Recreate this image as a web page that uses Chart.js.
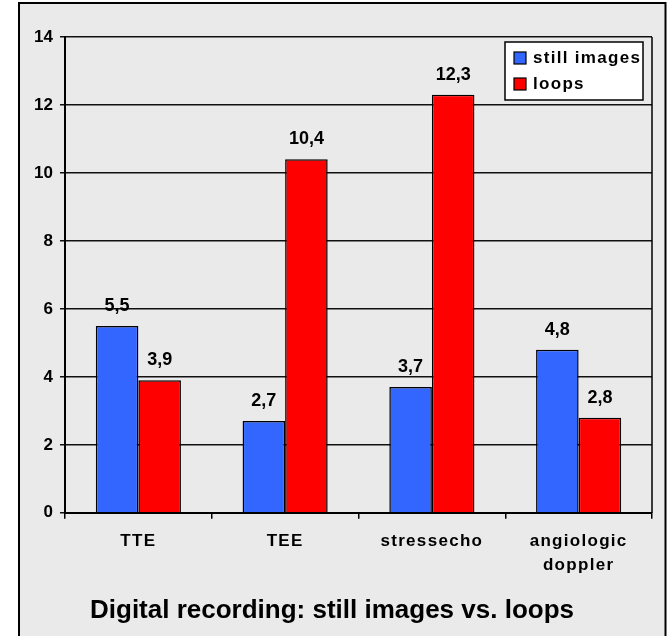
<!DOCTYPE html>
<html>
<head>
<meta charset="utf-8">
<script src="https://cdn.jsdelivr.net/npm/chart.js@4/dist/chart.umd.min.js"></script>
<style>
  html, body { margin: 0; padding: 0; background: #fff; }
  #wrap { width: 669px; height: 636px; }
</style>
</head>
<body>
<div id="wrap"><canvas id="chart" width="669" height="636"></canvas></div>
<script>
// Recording type per examination
const categories = ['TTE', 'TEE', 'stressecho', ['angiologic', 'doppler']];
const stillImages = [5.5, 2.7, 3.7, 4.8];
const loops = [3.9, 10.4, 12.3, 2.8];
const yTicks = [0, 2, 4, 6, 8, 10, 12, 14];
const seriesNames = ['still images', 'loops'];
const titleText = 'Digital recording: still images vs. loops';

const FONT = '"Liberation Sans", Arial, sans-serif';
const PANEL = '#eaeaea';
const BLUE = '#3366ff';
const RED = '#ff0000';

const fmt = v => v.toFixed(1).replace('.', ',');

// Frame, plot border, value labels and the inset legend
const decor = {
  id: 'decor',
  beforeDraw(chart) {
    const ctx = chart.ctx;
    ctx.letterSpacing = '0px';
    ctx.save();
    ctx.fillStyle = '#fff';
    ctx.fillRect(0, 0, chart.width, chart.height);
    ctx.fillStyle = PANEL;
    ctx.fillRect(19, 3, 646, chart.height - 3);
    ctx.strokeStyle = '#000';
    ctx.lineWidth = 2;
    ctx.beginPath();
    ctx.moveTo(19, chart.height);
    ctx.lineTo(19, 3);
    ctx.lineTo(665.5, 3);
    ctx.lineTo(665.5, chart.height);
    ctx.stroke();
    ctx.restore();
  },
  beforeDatasetsDraw(chart) {
    const { ctx, chartArea: a } = chart;
    ctx.save();
    ctx.strokeStyle = '#000';
    ctx.lineWidth = 1.5;
    ctx.beginPath();
    ctx.moveTo(a.right, a.top);
    ctx.lineTo(a.right, a.bottom);
    ctx.stroke();
    ctx.restore();
  },
  afterDatasetsDraw(chart) {
    const ctx = chart.ctx;
    ctx.save();
    ctx.letterSpacing = '0px';
    ctx.font = 'bold 18px ' + FONT;
    ctx.fillStyle = '#000';
    ctx.textAlign = 'center';
    ctx.textBaseline = 'alphabetic';
    chart.data.datasets.forEach((ds, i) => {
      chart.getDatasetMeta(i).data.forEach((el, j) => {
        ctx.fillText(fmt(ds.data[j]), el.x, el.y - 15);
      });
    });
    ctx.restore();
    // category labels are drawn after this point
    ctx.letterSpacing = '1.3px';
  },
  afterDraw(chart) {
    const { ctx, chartArea: a } = chart;
    const w = 138, h = 58;
    const x = a.right - 9 - w, y = a.top + 5;
    ctx.save();
    ctx.fillStyle = '#fff';
    ctx.fillRect(x, y, w, h);
    ctx.strokeStyle = '#000';
    ctx.lineWidth = 1.5;
    ctx.strokeRect(x, y, w, h);
    ctx.font = 'bold 17px ' + FONT;
    ctx.letterSpacing = '1.3px';
    ctx.textAlign = 'left';
    ctx.textBaseline = 'alphabetic';
    chart.data.datasets.forEach((ds, i) => {
      const rowY = y + 10 + i * 26;
      ctx.fillStyle = ds.backgroundColor;
      ctx.fillRect(x + 9, rowY, 12, 12);
      ctx.lineWidth = 1.2;
      ctx.strokeRect(x + 9, rowY, 12, 12);
      ctx.fillStyle = '#000';
      ctx.fillText(ds.label, x + 28, rowY + 11);
    });
    ctx.restore();
    ctx.letterSpacing = '0px';
  }
};

new Chart(document.getElementById('chart'), {
  type: 'bar',
  data: {
    labels: categories,
    datasets: [
      { label: seriesNames[0], data: stillImages, backgroundColor: BLUE, borderColor: '#000', borderWidth: 1.5 },
      { label: seriesNames[1], data: loops, backgroundColor: RED, borderColor: '#000', borderWidth: 1.5 }
    ]
  },
  options: {
    responsive: false,
    animation: false,
    devicePixelRatio: 1,
    layout: { padding: { left: 12, right: 17, top: 37, bottom: 0 } },
    datasets: { bar: { categoryPercentage: 0.58, barPercentage: 1.0 } },
    plugins: {
      legend: { display: false },
      tooltip: { enabled: false },
      title: {
        display: true,
        position: 'bottom',
        text: titleText,
        color: '#000',
        font: { family: FONT, size: 26, weight: 'bold' },
        padding: { top: 0, bottom: 10 }
      }
    },
    scales: {
      x: {
        offset: true,
        grid: { display: true, offset: true, drawOnChartArea: false, drawTicks: true, tickLength: 6, color: '#000', lineWidth: 1.5 },
        border: { display: true, color: '#000', width: 2 },
        ticks: {
          z: 1,
          color: '#000',
          padding: 10,
          maxRotation: 0,
          autoSkip: false,
          font: { family: FONT, size: 17, weight: 'bold', lineHeight: 1.45 }
        },
        afterFit(scale) { scale.height = 82; }
      },
      y: {
        min: 0,
        max: 14,
        afterBuildTicks(scale) { scale.ticks = yTicks.map(v => ({ value: v })); },
        grid: { color: '#111', lineWidth: 1.5, drawTicks: true, tickLength: 5 },
        border: { display: true, color: '#000', width: 2 },
        ticks: {
          color: '#000',
          padding: 7,
          font: { family: FONT, size: 17, weight: 'bold' }
        },
        afterFit(scale) { scale.width = 53; }
      }
    }
  },
  plugins: [decor]
});
</script>
</body>
</html>
